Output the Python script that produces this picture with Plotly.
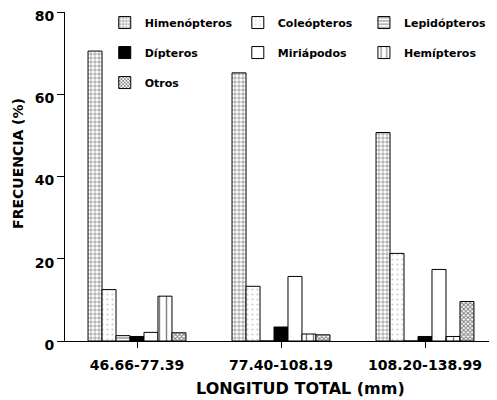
import plotly.graph_objects as go

categories = ["46.66-77.39", "77.40-108.19", "108.20-138.99"]
series_names = ["Himenópteros", "Coleópteros", "Lepidópteros", "Dípteros",
                "Miriápodos", "Hemípteros", "Otros"]
himenopteros = [70.5, 65.2, 50.7]
coleopteros = [12.5, 13.3, 21.3]
lepidopteros = [1.3, 0.0, 0.0]
dipteros = [1.1, 3.4, 1.1]
miriapodos = [2.1, 15.7, 17.4]
hemipteros = [10.9, 1.7, 1.1]
otros = [2.0, 1.5, 9.6]
values = [himenopteros, coleopteros, lepidopteros, dipteros, miriapodos, hemipteros, otros]
y_ticks = [0, 20, 40, 60, 80]
x_title = "LONGITUD TOTAL (mm)"
y_title = "FRECUENCIA (%)"

styles = [
    dict(color="white", pattern=dict(shape="+", fgcolor="black", bgcolor="white", size=4, solidity=0.3)),
    dict(color="white", pattern=dict(shape=".", fgcolor="#999", bgcolor="white", size=5, solidity=0.15)),
    dict(color="white", pattern=dict(shape="-", fgcolor="black", bgcolor="white", size=4, solidity=0.3)),
    dict(color="black"),
    dict(color="white"),
    dict(color="white", pattern=dict(shape="|", fgcolor="black", bgcolor="white", size=7, solidity=0.2)),
    dict(color="white", pattern=dict(shape="x", fgcolor="black", bgcolor="white", size=3, solidity=0.55)),
]
legend_ids = ["legend", "legend2", "legend3", "legend", "legend2", "legend3", "legend"]
legend_ranks = [1, 1, 1, 2, 2, 2, 3]

fig = go.Figure()
for name, vals, st, lg, rk in zip(series_names, values, styles, legend_ids, legend_ranks):
    fig.add_trace(go.Bar(
        x=categories, y=vals, name=name, legend=lg, legendrank=rk, legendgroup=name,
        marker=dict(line=dict(color="black", width=1), **st),
    ))

font_fam = "DejaVu Sans, Verdana, sans-serif"
leg_common = dict(orientation="v", bgcolor="rgba(0,0,0,0)", borderwidth=0,
                  font=dict(family=font_fam, size=11, color="black", weight="bold"),
                  yanchor="top", xanchor="left", tracegroupgap=11, itemwidth=30)
fig.update_layout(
    width=489, height=392,
    margin=dict(l=57, r=0, t=4, b=59),
    paper_bgcolor="white", plot_bgcolor="white",
    barmode="group", bargap=0.32, bargroupgap=0,
    showlegend=True,
    legend=dict(x=0.092, y=1.012, **leg_common),
    legend2=dict(x=0.40, y=1.012, **leg_common),
    legend3=dict(x=0.692, y=1.012, **leg_common),
    font=dict(family=font_fam, color="black"),
    xaxis=dict(
        automargin=False,
        showline=True, linecolor="black", linewidth=1,
        ticks="outside", ticklen=6, tickcolor="black", ticklabelstandoff=5,
        tickfont=dict(size=14, family=font_fam, weight="bold"),
        range=[-0.5, 2.5],
    ),
    yaxis=dict(
        automargin=False,
        range=[0, 80], tickvals=y_ticks, showgrid=False, zeroline=False,
        showline=True, linecolor="black", linewidth=1,
        ticks="outside", ticklen=7, tickcolor="black",
        ticklabeloverflow="allow", ticklabelshift=4,
        tickfont=dict(size=14, family=font_fam, weight="bold"),
    ),
    annotations=[
        dict(text=x_title, xref="paper", yref="paper", x=0.544, y=-0.143,
             xanchor="center", yanchor="middle", showarrow=False,
             font=dict(size=16, family=font_fam, weight="bold", color="black")),
        dict(text=y_title, xref="paper", yref="paper", x=-0.109, y=0.541,
             xanchor="center", yanchor="middle", showarrow=False, textangle=-90,
             font=dict(size=14, family=font_fam, weight="bold", color="black")),
    ],
)
fig.write_html("out.html")
